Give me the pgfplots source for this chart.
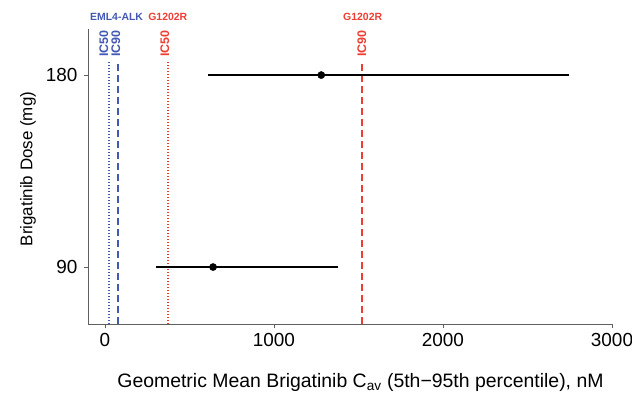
\documentclass[border=0pt]{standalone}
\usepackage{fontspec}
\setmainfont{Liberation Sans}
\usepackage{pgfplots}
\pgfplotsset{compat=1.18}

\definecolor{ealk}{RGB}{66,88,178}
\definecolor{gmut}{RGB}{238,62,52}
\definecolor{axgray}{RGB}{95,95,95}

\begin{document}
\begin{tikzpicture}
% page frame: axis box sits at the origin, 524bp x 295bp
\useasboundingbox (-88bp,-69bp) rectangle (544bp,324bp);
\begin{axis}[
  at={(0,0)}, anchor=south west,
  scale only axis, width=524bp, height=295bp,
  xmin=-100, xmax=3000,
  ymin=63.3, ymax=201.6,
  axis lines*=left,
  axis line style={axgray, line width=0.8pt},
  xtick={0,1000,2000,3000},
  ytick={90,180},
  tick style={axgray, line width=0.8pt},
  tick align=outside,
  major tick length=4bp,
  /pgf/number format/assume math mode=true,
  /pgf/number format/1000 sep={},
  tick label style={font=\fontsize{19}{22}\selectfont},
  xticklabel style={yshift=-2bp},
  yticklabel style={xshift=-3bp},
  clip=false,
  dotline/.style={line width=1.6bp, dash pattern=on 1.1bp off 1.9bp},
  dashline/.style={line width=1.8bp, dash pattern=on 7bp off 4bp},
]
% reference concentrations (nM)
\addplot[ealk, dotline] coordinates {(25,63.3) (25,186)};
\addplot[ealk, dashline] coordinates {(76,63.3) (76,186)};
\addplot[gmut, dotline] coordinates {(372,63.3) (372,186)};
\addplot[gmut, dashline] coordinates {(1523,63.3) (1523,186)};

% 5th--95th percentile ranges
\addplot[black, line width=2pt] coordinates {(610,180) (2748,180)};
\addplot[black, line width=2pt] coordinates {(305,90) (1379,90)};
% geometric means
\addplot[only marks, mark=*, mark size=3.6bp, black] coordinates {(1280,180) (640,90)};

% line annotations
\node[rotate=90, anchor=center, inner sep=0, text=ealk, font=\fontsize{12.5}{14}\selectfont\bfseries] at (axis cs:-6,194.8) {IC50};
\node[rotate=90, anchor=center, inner sep=0, text=ealk, font=\fontsize{12.5}{14}\selectfont\bfseries] at (axis cs:64,194.8) {IC90};
\node[rotate=90, anchor=center, inner sep=0, text=gmut, font=\fontsize{12.5}{14}\selectfont\bfseries] at (axis cs:355,194.8) {IC50};
\node[rotate=90, anchor=center, inner sep=0, text=gmut, font=\fontsize{12.5}{14}\selectfont\bfseries] at (axis cs:1520,194.8) {IC90};
\node[anchor=center, inner sep=0, text=ealk, font=\fontsize{10.5}{12}\selectfont\bfseries] at (axis cs:69,207.2) {EML4-ALK};
\node[anchor=center, inner sep=0, text=gmut, font=\fontsize{10.5}{12}\selectfont\bfseries] at (axis cs:372,207.2) {G1202R};
\node[anchor=center, inner sep=0, text=gmut, font=\fontsize{10.5}{12}\selectfont\bfseries] at (axis cs:1525,207.2) {G1202R};

% axis titles
\node[anchor=base, inner sep=0, font=\fontsize{19.5}{22}\selectfont] at (rel axis cs:0.52,-0.2136) {Geometric Mean Brigatinib C\textsubscript{av} (5th−95th percentile), nM};
\node[rotate=90, anchor=center, inner sep=0, font=\fontsize{17}{20}\selectfont] at (rel axis cs:-0.1145,0.5254) {Brigatinib Dose (mg)};
\end{axis}
\end{tikzpicture}
\end{document}
